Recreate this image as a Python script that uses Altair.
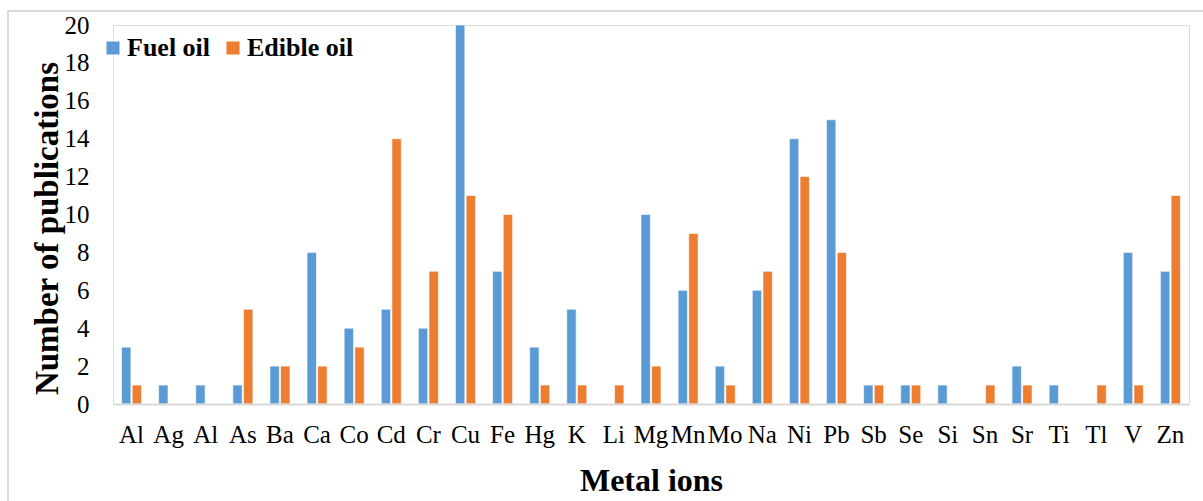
import altair as alt
import pandas as pd

# Metal ions studied and number of publications per oil type
metals = ["Al", "Ag", "Al", "As", "Ba", "Ca", "Co", "Cd", "Cr", "Cu", "Fe", "Hg", "K", "Li",
          "Mg", "Mn", "Mo", "Na", "Ni", "Pb", "Sb", "Se", "Si", "Sn", "Sr", "Ti", "Tl", "V", "Zn"]
fuel_oil = [3, 1, 1, 1, 2, 8, 4, 5, 4, 20, 7, 3, 5, 0,
            10, 6, 2, 6, 14, 15, 1, 1, 1, 0, 2, 1, 0, 8, 7]
edible_oil = [1, 0, 0, 5, 2, 2, 3, 14, 7, 11, 10, 1, 1, 1,
              2, 9, 1, 7, 12, 8, 1, 1, 0, 1, 1, 0, 1, 1, 11]
series = ["Fuel oil", "Edible oil"]
colors = ["#5B9BD5", "#ED7D31"]

rows = []
for i, m in enumerate(metals):
    rows.append({"idx": i, "metal": m, "series": "Fuel oil", "count": fuel_oil[i]})
    rows.append({"idx": i, "metal": m, "series": "Edible oil", "count": edible_oil[i]})
df = pd.DataFrame(rows)

label_expr = "[" + ",".join(f"'{m}'" for m in metals) + "][datum.value]"
serif = "Liberation Serif"

W, H = 1076, 379

bars = alt.Chart(df).mark_bar(stroke="white", strokeWidth=0.6).encode(
    x=alt.X("idx:O",
            scale=alt.Scale(paddingInner=0.46, paddingOuter=0.23),
            axis=alt.Axis(title="Metal ions", labelExpr=label_expr, labelAngle=0,
                          labelFont=serif, labelFontSize=25, labelColor="black",
                          labelPadding=18, ticks=False, domainColor="#d9d9d9",
                          domainWidth=2, zindex=1, titleFont=serif, titleFontSize=32,
                          titleFontWeight="bold", titleColor="black", titlePadding=18)),
    xOffset=alt.XOffset("series:N", sort=series, scale=alt.Scale(paddingInner=0.12)),
    y=alt.Y("count:Q",
            scale=alt.Scale(domain=[0, 20], nice=False),
            axis=alt.Axis(title="Number of publications", values=list(range(0, 21, 2)),
                          labelFont=serif, labelFontSize=25, labelColor="black",
                          labelPadding=24, ticks=False, domain=False, grid=False,
                          titleFont=serif, titleFontSize=33, titleFontWeight="bold",
                          titleColor="black", titlePadding=0, titleY=203)),
    color=alt.Color("series:N", sort=series,
                    scale=alt.Scale(domain=series, range=colors),
                    legend=alt.Legend(title=None, orient="none", legendX=-13, legendY=10,
                                      direction="horizontal", symbolType="square",
                                      symbolSize=170, symbolStrokeWidth=0,
                                      labelFont=serif, labelFontSize=26,
                                      labelFontWeight="bold", labelColor="black",
                                      columnPadding=9, labelOffset=1)),
)

# light gray frame around the whole figure
frame = alt.Chart(pd.DataFrame({"a": [0]})).mark_rect(
    fill=None, stroke="#d9d9d9", strokeWidth=2
).encode(x=alt.value(-105), x2=alt.value(W + 120), y=alt.value(-14), y2=alt.value(H + 110))

chart = alt.layer(frame, bars).properties(
    width=W, height=H,
    autosize=alt.AutoSizeParams(type="none"),
    padding={"left": 113, "top": 25, "right": 14, "bottom": 97},
).configure_view(stroke=None).configure(background="white")

chart.save("out.html", embed_options={"renderer": "svg", "actions": False})
